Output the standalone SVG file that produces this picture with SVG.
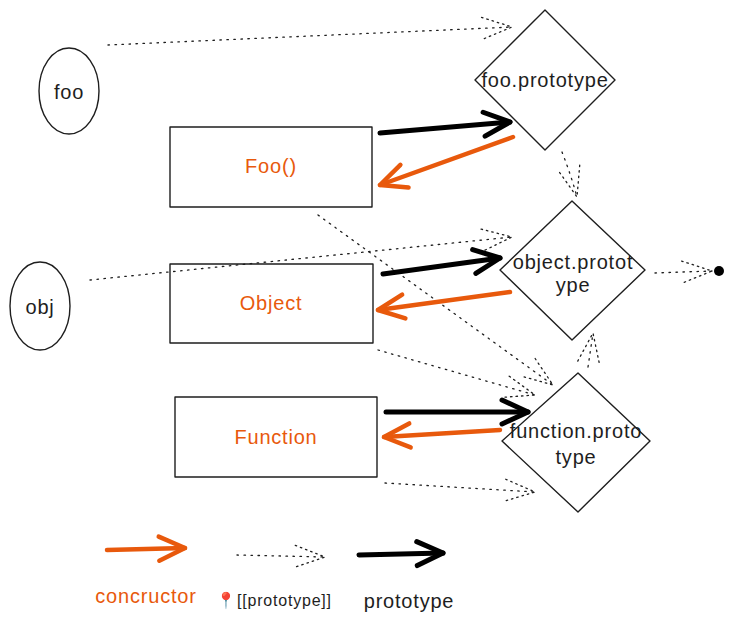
<svg xmlns="http://www.w3.org/2000/svg" width="733" height="621" viewBox="0 0 733 621">
<style>
.shape{fill:none;stroke:#1e1e1e;stroke-width:1.4;stroke-linejoin:round}
.lbl{font-family:"Liberation Sans",Arial,sans-serif;font-size:20px;letter-spacing:0.8px;fill:#1e1e1e;text-anchor:middle;dominant-baseline:central}
.org{fill:#e8590c}
.dot{fill:none;stroke:#1e1e1e;stroke-width:1.3;stroke-dasharray:1.5 5.5;stroke-linecap:round}
.blk{fill:none;stroke:#000;stroke-width:5;stroke-linecap:round}
.ora{fill:none;stroke:#e8590c;stroke-width:4.5;stroke-linecap:round}
</style>
<defs>
<marker id="mb" markerUnits="userSpaceOnUse" viewBox="-5 -5 38 34" markerWidth="38" markerHeight="34" refX="28" refY="12" orient="auto" overflow="visible">
<path d="M2,0 L28,12 L2,24" fill="none" stroke="#000" stroke-width="5" stroke-linecap="round" stroke-linejoin="round"/>
</marker>
<marker id="mo" markerUnits="userSpaceOnUse" viewBox="-5 -5 38 34" markerWidth="38" markerHeight="34" refX="28" refY="12" orient="auto" overflow="visible">
<path d="M2,0 L28,12 L2,24" fill="none" stroke="#e8590c" stroke-width="4.5" stroke-linecap="round" stroke-linejoin="round"/>
</marker>
<marker id="md" markerUnits="userSpaceOnUse" viewBox="-5 -5 40 32" markerWidth="40" markerHeight="32" refX="30" refY="11" orient="auto" overflow="visible">
<path d="M0,0 L30,11 L0,22" fill="none" stroke="#1e1e1e" stroke-width="1.3" stroke-dasharray="1.5 4" stroke-linecap="round"/>
</marker>
</defs>
<rect width="733" height="621" fill="#fff"/>
<g id="foo">
<ellipse class="shape" cx="69" cy="91" rx="30" ry="43"/>
<text class="lbl" x="69" y="92">foo</text>
</g>
<g id="obj">
<ellipse class="shape" cx="40" cy="306" rx="30" ry="44"/>
<text class="lbl" x="40" y="307">obj</text>
</g>
<g id="Foo">
<rect class="shape" x="170" y="127" width="202" height="80"/>
<text class="lbl org" x="271" y="166">Foo()</text>
</g>
<g id="Object">
<rect class="shape" x="170" y="264" width="203" height="79"/>
<text class="lbl org" x="271" y="303">Object</text>
</g>
<g id="Function">
<rect class="shape" x="175" y="397" width="202" height="80"/>
<text class="lbl org" x="276" y="437">Function</text>
</g>
<g id="foo-prototype">
<path class="shape" d="M545,10 L615,80 L545,150 L475,80 Z"/>
<text class="lbl" x="545" y="80">foo.prototype</text>
</g>
<g id="object-prototype">
<path class="shape" d="M572,201 L645,270 L572,340 L500,270 Z"/>
<text class="lbl" x="573" y="262">object.protot</text>
<text class="lbl" x="573" y="285">ype</text>
</g>
<g id="function-prototype">
<path class="shape" d="M578,373 L650,441 L578,512 L502,441 Z"/>
<text class="lbl" x="576" y="431">function.proto</text>
<text class="lbl" x="576" y="457">type</text>
</g>
<g id="connectors">
<path class="dot" d="M108,45 L512,27" marker-end="url(#md)"/>
<path class="dot" d="M562,152 Q571,175 577,197" marker-end="url(#md)"/>
<path class="dot" d="M318,215 L553,385" marker-end="url(#md)"/>
<path class="dot" d="M90,280 L512,237" marker-end="url(#md)"/>
<path class="dot" d="M655,273 L712,271" marker-end="url(#md)"/>
<circle cx="719" cy="271" r="5" fill="#000"/>
<path class="dot" d="M378,350 L535,395" marker-end="url(#md)"/>
<path class="dot" d="M588,367 L593,333" marker-end="url(#md)"/>
<path class="dot" d="M385,483 L535,492" marker-end="url(#md)"/>
<path class="blk" d="M380,133 L510,122" marker-end="url(#mb)"/>
<path class="ora" d="M513,137 L380,185" marker-end="url(#mo)"/>
<path class="blk" d="M383,274 L500,258" marker-end="url(#mb)"/>
<path class="ora" d="M510,292 L378,310" marker-end="url(#mo)"/>
<path class="blk" d="M386,412 L528,412" marker-end="url(#mb)"/>
<path class="ora" d="M500,430 L384,437" marker-end="url(#mo)"/>
</g>
<g id="legend">
<path class="ora" d="M107,550 L185,548" marker-end="url(#mo)"/>
<path class="dot" d="M237,555 L325,557" marker-end="url(#md)"/>
<path class="blk" d="M359,555 L443,553" marker-end="url(#mb)"/>
<text class="lbl org" x="146" y="596">concructor</text>
<text class="lbl" x="274" y="600" style="font-size:16px">📍[[prototype]]</text>
<text class="lbl" x="409" y="601">prototype</text>
</g>
</svg>
